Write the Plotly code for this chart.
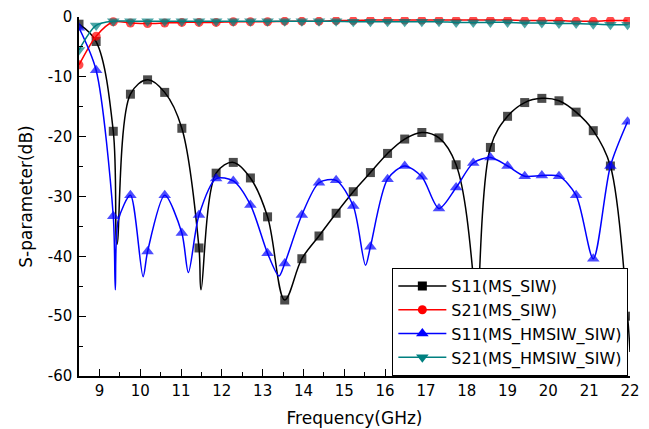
import plotly.graph_objects as go

# ---- data ----
freq_marks = [8.5, 8.92, 9.34, 9.76, 10.18, 10.6, 11.02, 11.44, 11.86, 12.28, 12.7,
              13.12, 13.54, 13.96, 14.38, 14.8, 15.22, 15.64, 16.06, 16.48, 16.9,
              17.32, 17.74, 18.16, 18.58, 19.0, 19.42, 19.84, 20.26, 20.68, 21.1,
              21.52, 21.94]

s11_ms_siw = [-1.2, -4.1, -19.1, -12.9, -10.5, -12.6, -18.6, -38.6, -26.1, -24.3, -26.9,
              -33.4, -47.3, -40.4, -36.6, -32.8, -29.2, -26.0, -22.8, -20.4, -19.3,
              -20.2, -24.7, -43.5, -21.8, -16.6, -14.3, -13.6, -14.0, -15.9, -19.0,
              -24.9, -50.0]
s11_ms_siw_dip_f = [9.43, 11.49, 18.22, 22.0]
s11_ms_siw_dip_v = [-38.0, -45.6, -56.0, -56.0]

s21_ms_siw = [-8.0, -3.2, -0.8, -1.0, -1.1, -1.0, -0.9, -0.9, -0.9, -0.8, -0.8,
              -0.8, -0.7, -0.7, -0.7, -0.6, -0.6, -0.5, -0.5, -0.5, -0.5,
              -0.5, -0.5, -0.5, -0.5, -0.5, -0.6, -0.6, -0.6, -0.7, -0.7,
              -0.6, -0.6]

s11_hmsiw = [-1.8, -8.9, -33.3, -29.8, -39.2, -29.8, -36.1, -33.1, -27.0, -27.4, -31.4,
             -39.5, -41.2, -33.1, -27.7, -27.3, -31.6, -38.4, -27.1, -24.9, -26.7,
             -32.0, -28.5, -24.4, -23.5, -24.9, -26.6, -26.5, -26.6, -29.8, -40.4,
             -24.9, -17.5]
s11_hmsiw_dip_f = [9.39, 9.46, 10.07, 11.18, 13.4, 15.52]
s11_hmsiw_dip_v = [-45.6, -34.0, -43.4, -42.7, -43.3, -41.5]

s21_hmsiw = [-5.5, -1.4, -0.7, -0.7, -0.7, -0.7, -0.7, -0.7, -0.7, -0.7, -0.7,
             -0.7, -0.7, -0.7, -0.7, -0.7, -0.8, -0.8, -0.8, -0.8, -0.8,
             -0.8, -0.9, -0.9, -0.9, -0.9, -1.0, -1.0, -1.1, -1.1, -1.2,
             -1.3, -1.3]

names = ["S11(MS_SIW)", "S21(MS_SIW)", "S11(MS_HMSIW_SIW)", "S21(MS_HMSIW_SIW)"]
colors = ["#000000", "#FF0000", "#0000FF", "#008080"]
symbols = ["square", "circle", "triangle-up", "triangle-down"]
msizes = [9, 9, 11, 11]

y_tick_vals = [-60, -50, -40, -30, -20, -10, 0]
y_tick_text = ["-60", "-50", "-40", "-30", "-20", "-10", "0"]
x_tick_vals = [9, 10, 11, 12, 13, 14, 15, 16, 17, 18, 19, 20, 21, 22]


def merge(xm, ym, xd, yd, size):
    pts = [(x, y, size) for x, y in zip(xm, ym)] + [(x, y, 0) for x, y in zip(xd, yd)]
    pts.sort(key=lambda p: p[0])
    return [p[0] for p in pts], [p[1] for p in pts], [p[2] for p in pts]


series = [
    merge(freq_marks, s11_ms_siw, s11_ms_siw_dip_f, s11_ms_siw_dip_v, msizes[0]),
    merge(freq_marks, s21_ms_siw, [], [], msizes[1]),
    merge(freq_marks, s11_hmsiw, s11_hmsiw_dip_f, s11_hmsiw_dip_v, msizes[2]),
    merge(freq_marks, s21_hmsiw, [], [], msizes[3]),
]
smooth = [1.0, 0.8, 0.8, 0.8]

fig = go.Figure()
for i, (xs, ys, ss) in enumerate(series):
    fig.add_trace(go.Scatter(
        x=xs, y=ys, mode="lines+markers", showlegend=False, cliponaxis=True,
        line=dict(color=colors[i], width=1.5, shape="spline", smoothing=smooth[i]),
        marker=dict(symbol=symbols[i], size=ss, color=colors[i], line=dict(width=0)),
    ))
# legend entries
for i in range(4):
    fig.add_trace(go.Scatter(
        x=[None], y=[None], mode="lines+markers", name=names[i],
        line=dict(color=colors[i], width=1.5),
        marker=dict(symbol=symbols[i], size=msizes[i], color=colors[i]),
    ))

FONT = "DejaVu Sans, Arial, sans-serif"
tick_font = dict(family=FONT, size=15, color="black")
fig.update_layout(
    width=649, height=429,
    margin=dict(l=79, r=19, t=17, b=53),
    paper_bgcolor="white", plot_bgcolor="white",
    font=dict(family=FONT, size=15, color="black"),
    showlegend=True,
    legend=dict(x=0.997, y=0.0, xanchor="right", yanchor="bottom",
                bgcolor="white", bordercolor="black", borderwidth=1,
                font=dict(family=FONT, size=16, color="black"),
                itemwidth=48, tracegroupgap=0),
    xaxis=dict(range=[8.5, 22], tickmode="array", tickvals=x_tick_vals,
               ticks="inside", ticklen=7, tickwidth=1.2, tickcolor="black",
               minor=dict(dtick=0.5, tick0=8.5, ticks="inside", ticklen=4, tickcolor="black"),
               showline=True, linecolor="black", linewidth=1.5, showgrid=False, zeroline=False,
               automargin=False, ticklabelstandoff=0,
               title=dict(text="Frequency(GHz)", font=dict(family=FONT, size=17), standoff=13),
               tickfont=tick_font),
    yaxis=dict(range=[-60, 0], tickmode="array", tickvals=y_tick_vals, ticktext=y_tick_text,
               ticks="inside", ticklen=7, tickwidth=1.2, tickcolor="black",
               minor=dict(dtick=5, tick0=0, ticks="inside", ticklen=4, tickcolor="black"),
               showline=True, linecolor="black", linewidth=1.5, showgrid=False, zeroline=False,
               automargin=False, ticklabelstandoff=2,
               title=dict(text="S-parameter(dB)", font=dict(family=FONT, size=17), standoff=11),
               tickfont=tick_font),
)

fig.write_html("out.html", config={"displayModeBar": False},
               post_script="document.body.style.margin='0';")
